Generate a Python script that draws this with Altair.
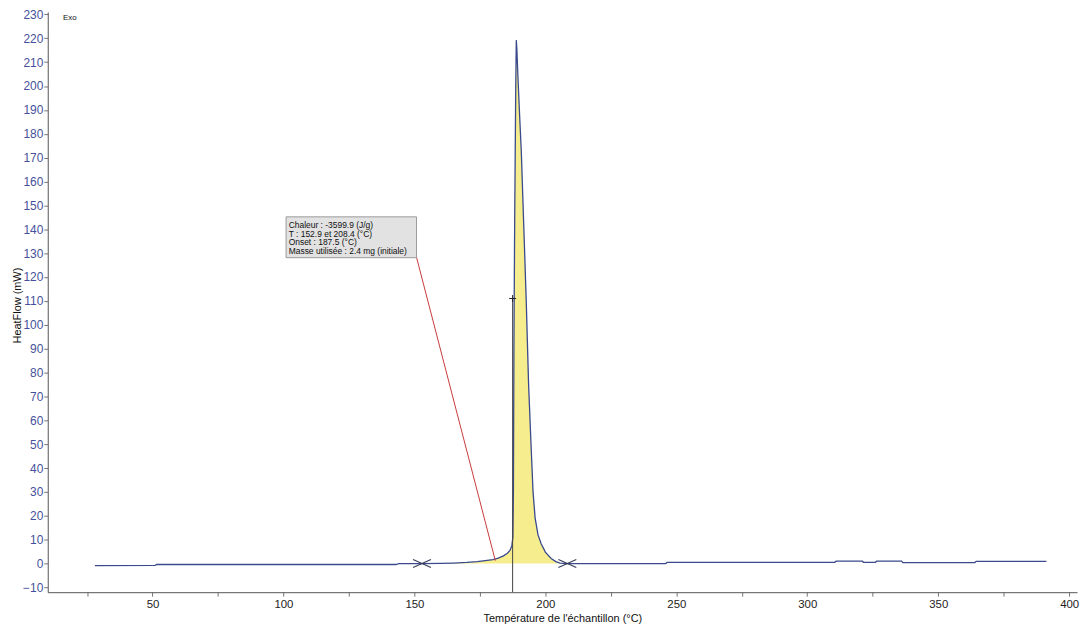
import altair as alt
import pandas as pd

# ---- data ----
temps = [28.0, 51.0, 51.5, 143.0, 144.0, 152.9, 160.0, 165.0, 170.0, 174.0, 177.0,
         180.0, 182.0, 184.0, 185.5, 186.5, 187.2, 187.6, 187.8, 187.9, 188.0,
         188.1, 188.3, 188.5, 188.7, 188.9, 189.1, 189.6, 190.2, 190.8, 191.8,
         192.7, 193.6, 194.6, 195.3, 196.1, 197.2, 198.4, 200.0, 202.2, 204.0,
         205.6, 208.4, 246.0, 246.5, 310.5, 311.0, 321.0, 321.5, 326.0, 326.5,
         336.0, 336.5, 364.0, 364.5, 391.3]
heatflow = [-0.9, -0.8, -0.4, -0.4, 0.0, 0.0, 0.05, 0.2, 0.45, 0.8, 1.2,
            1.6, 2.3, 3.2, 4.3, 5.5, 7.5, 11.0, 30.0, 60.0, 90.0,
            110.0, 145.0, 173.0, 200.0, 219.2, 216.0, 202.0, 187.0, 173.0, 140.0,
            110.0, 75.0, 48.0, 30.0, 19.0, 12.0, 8.3, 4.8, 2.1, 0.8,
            0.2, 0.0, 0.0, 0.5, 0.5, 1.0, 1.0, 0.5, 0.5, 1.0,
            1.0, 0.4, 0.4, 0.9, 0.9]

limit_temps = [152.9, 208.4]
onset_temp = 187.5
onset_mark_hf = 111.0

note_lines = ["Chaleur :  -3599.9 (J/g)",
              "T : 152.9 et 208.4 (°C)",
              "Onset :  187.5 (°C)",
              "Masse utilisée :  2.4 mg (initiale)"]
note_line_y = [141.9, 138.2, 134.5, 130.8]
note_box = {"x1": 101.0, "x2": 150.8, "y1": 128.1, "y2": 145.2}
leader = {"x1": 150.8, "y1": 128.3, "x2": 180.9, "y2": 1.2}

x_ticks = list(range(25, 401, 25))
y_ticks = list(range(-10, 231, 10))

# ---- tables ----
curve = pd.DataFrame({"T": temps, "HF": heatflow})
peak = curve[(curve["T"] >= limit_temps[0]) & (curve["T"] <= limit_temps[1])].copy()
peak["base"] = 0.0
limits = pd.DataFrame({"T": limit_temps, "HF": [0.0, 0.0]})
onset = pd.DataFrame({"T": [onset_temp], "HF": [onset_mark_hf], "low": [-12.0]})
notes = pd.DataFrame({"T": [note_box["x1"] + 1.0] * len(note_lines), "HF": note_line_y, "txt": note_lines})
box = pd.DataFrame([note_box])
lead = pd.DataFrame([leader])
exo = pd.DataFrame({"T": [15.8], "HF": [228.6], "txt": ["Exo"]})

FONT = "Liberation Sans"
xs = alt.Scale(domain=[10, 403], nice=False, zero=False)
ys = alt.Scale(domain=[-12, 231], nice=False, zero=False)
xaxis = alt.Axis(values=x_ticks, labelExpr="datum.value % 50 == 0 ? datum.label : ''",
                 grid=False, tickSize=4, labelPadding=2, labelColor="#222222",
                 labelFontSize=11.5, titleFontSize=11, titleFontWeight="normal",
                 titlePadding=3, domainColor="#555555", tickColor="#777777",
                 labelFont=FONT, titleFont=FONT, titleColor="#111111")
yaxis = alt.Axis(values=y_ticks, grid=False, tickSize=4, labelPadding=1,
                 labelColor="#45509a", labelFontSize=12, titleFontSize=11,
                 titleFontWeight="normal", titleX=-30, titleY=295,
                 titleBaseline="middle", domainColor="#555555", tickColor="#777777",
                 labelFont=FONT, titleFont=FONT, titleColor="#111111")
XT = "Température de l'échantillon (°C)"
YT = "HeatFlow (mW)"


def X(f):
    return alt.X(f, type="quantitative", scale=xs, axis=xaxis, title=XT)


def Y(f):
    return alt.Y(f, type="quantitative", scale=ys, axis=yaxis, title=YT)


area = alt.Chart(peak).mark_area(color="#f6ee8e", opacity=1).encode(
    x=X("T"), y=Y("HF"), y2="base")
line = alt.Chart(curve).mark_line(color="#3a4a8c", strokeWidth=1.3).encode(
    x=X("T"), y=Y("HF"))
vrule = alt.Chart(onset).mark_rule(color="#444444", strokeWidth=1).encode(
    x=X("T"), y=Y("low"), y2="HF")
plus = alt.Chart(onset).mark_point(shape="M-1,0L1,0M0,-1L0,1", size=49, filled=False,
                                   color="#222222", strokeWidth=1, opacity=1).encode(
    x=X("T"), y=Y("HF"))
xmarks = alt.Chart(limits).mark_point(shape="M-1,-0.45L1,0.45M-1,0.45L1,-0.45", size=324,
                                      filled=False, color="#3a3f5c", strokeWidth=1.2,
                                      opacity=1).encode(x=X("T"), y=Y("HF"))
leadline = alt.Chart(lead).mark_rule(color="#c83a3a", strokeWidth=1).encode(
    x=X("x1"), y=Y("y1"), x2="x2", y2="y2")
boxm = alt.Chart(box).mark_rect(fill="#e2e2e2", stroke="#9a9a9a", strokeWidth=1).encode(
    x=X("x1"), x2="x2", y=Y("y1"), y2="y2")
texts = alt.Chart(notes).mark_text(align="left", baseline="middle", font=FONT,
                                   fontSize=8.5, color="#111111").encode(
    x=X("T"), y=Y("HF"), text="txt")
exot = alt.Chart(exo).mark_text(align="left", baseline="middle", font=FONT,
                                fontSize=8, color="#111111").encode(
    x=X("T"), y=Y("HF"), text="txt")

chart = alt.layer(area, line, vrule, plus, xmarks, leadline, boxm, texts, exot).properties(
    width=1036, height=584,
    autosize=alt.AutoSizeParams(type="none"),
    padding={"left": 40, "top": 2, "right": 3, "bottom": 30},
    background="white",
).configure_view(stroke=None)

chart.save("out.html", embed_options={"renderer": "svg", "actions": False})
